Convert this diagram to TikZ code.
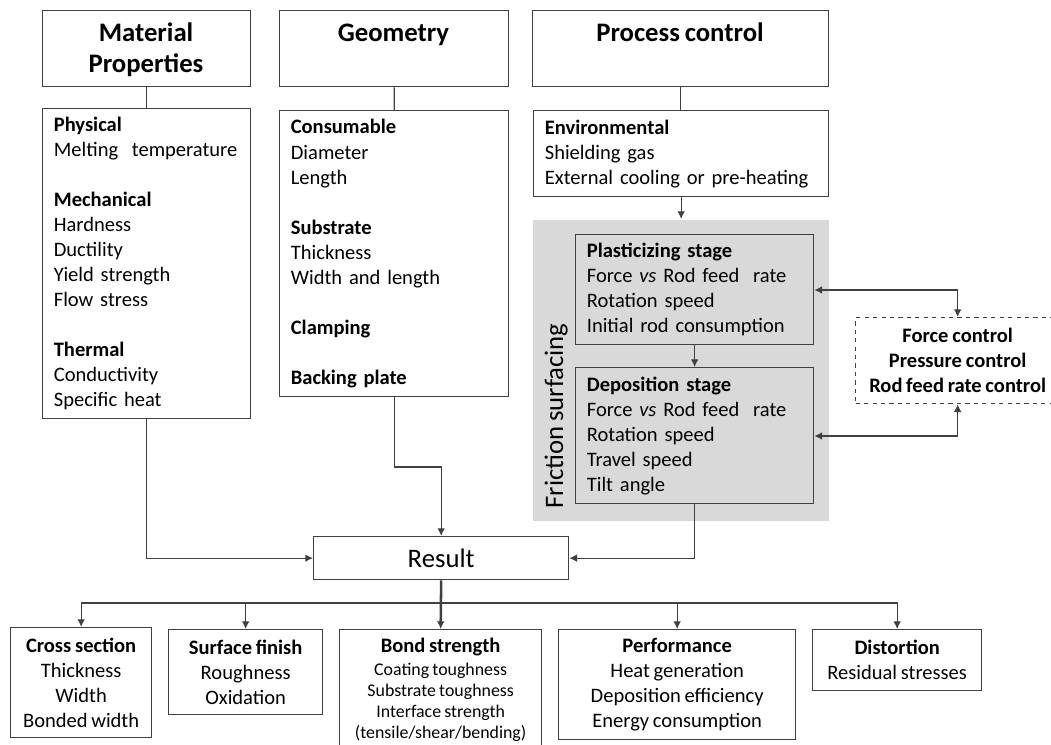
\documentclass[tikz,border=0pt]{standalone}
\usepackage{fontspec}
\setmainfont{Carlito}[WordSpace=0.8]
\usetikzlibrary{arrows.meta,positioning}
\newcommand\lstfont{\fontsize{14.6}{17.8}\selectfont}
\newcommand\hdfont{\fontsize{19}{22}\selectfont\bfseries}
\newcommand\smfont{\fontsize{12.7}{15}\selectfont}
\newcommand\fricfont{\fontsize{19}{22}\selectfont}
\newcommand\gap{\\[17.8pt]}
\newcommand\sm[1]{{\smfont #1}}
\begin{document}
\begin{tikzpicture}[x=0.025cm,y=-0.025cm,
  box/.style={draw=black!75,line width=0.9pt,rectangle,inner sep=0pt,anchor=north west},
  hdbox/.style={box,minimum height=1.9cm},
  hdtext/.style={font=\hdfont,align=center,inner sep=0pt,anchor=base},
  listbox/.style={box,font=\lstfont,align=left,inner xsep=0.28cm},
  resbox/.style={box,font=\lstfont,align=center},
  conn/.style={draw=black!75,line width=0.9pt},
  arr/.style={conn,-{Latex[length=5.5pt,width=5.5pt]}},
  biarr/.style={conn,{Latex[length=5.5pt,width=5.5pt]}-{Latex[length=5.5pt,width=5.5pt]}}]
\useasboundingbox (0,0) rectangle (1051,744);

% headers
\node[hdbox,minimum width=5.2cm] (mathd) at (42,10) {};
\node[hdbox,minimum width=5.725cm] (geohd) at (279,10) {};
\node[hdbox,minimum width=7.4cm] (prohd) at (532,10) {};
\node[hdtext] (mattxt) at (146,72) {Material\\Properties};
\node[hdtext] (geotxt) at (393.5,41) {Geometry};
\node[hdtext] (protxt) at (680,41) {Process control};

% parameter lists
\node[listbox,text width=4.64cm,minimum height=7.75cm] (matlist) at (42,108) {%
  \textbf{Physical}\\Melting~ temperature\gap
  \textbf{Mechanical}\\Hardness\\Ductility\\Yield strength\\Flow stress\gap
  \textbf{Thermal}\\Conductivity\\Specific heat};
\node[listbox,text width=5.165cm,minimum height=7.15cm] (geolist) at (279,110) {%
  \textbf{Consumable}\\Diameter\\Length\gap
  \textbf{Substrate}\\Thickness\\Width and length\gap
  \textbf{Clamping}\gap
  \textbf{Backing plate}};
\node[listbox,text width=6.815cm,minimum height=2.15cm] (env) at (533,110) {%
  \textbf{Environmental}\\Shielding gas\\External cooling or pre-heating};

% friction surfacing stages
\node[box,draw=none,fill=black!15,minimum width=7.4cm,minimum height=7.525cm] (fric) at (532,219) {};
\node[rotate=90,anchor=base,font=\fricfont,inner sep=0pt] (friclab) at (563,416) {Friction surfacing};
\node[listbox,text width=5.39cm,minimum height=2.75cm] (plast) at (575,234) {%
  \textbf{Plasticizing stage}\\Force \emph{vs} Rod feed~ rate\\Rotation speed\\Initial rod consumption};
\node[listbox,text width=5.39cm,minimum height=3.4cm] (deposit) at (575,367) {%
  \textbf{Deposition stage}\\Force \emph{vs} Rod feed~ rate\\Rotation speed\\Travel speed\\Tilt angle};
\node[resbox,dashed,font=\lstfont\bfseries,minimum width=5.1cm,minimum height=2.15cm] (ctrl) at (855,317) {%
  Force control\\Pressure control\\Rod feed rate control};

% result and outcomes
\node[resbox,font=\fricfont,minimum width=6.375cm,minimum height=1.075cm] (result) at (313,536) {Result};
\node[resbox,minimum width=3.525cm,minimum height=2.75cm] (cross) at (10,627) {%
  \textbf{Cross section}\\Thickness\\Width\\Bonded width};
\node[resbox,minimum width=3.85cm,minimum height=2.125cm] (surf) at (168,629) {%
  \textbf{Surface finish}\\Roughness\\Oxidation};
\node[resbox,minimum width=5.05cm,minimum height=3.025cm] (bond) at (339,629) {%
  \textbf{Bond strength}\\[-1.4pt]\sm{Coating toughness}\\[-2.9pt]\sm{Substrate toughness}\\[-2.9pt]%
  \sm{Interface strength}\\[-2.9pt]\sm{(tensile/shear/bending)}};
\node[resbox,minimum width=5.925cm,minimum height=2.75cm] (perf) at (558,629) {%
  \textbf{Performance}\\Heat generation\\Deposition efficiency\\Energy consumption};
\node[resbox,minimum width=4.225cm,minimum height=1.525cm] (dist) at (812,629) {%
  \textbf{Distortion}\\Residual stresses};

% connectors
\draw[conn] (mathd.south) -- (matlist.north);
\draw[conn] (geohd.south) -- (geolist.north);
\draw[conn] (prohd.south) -- (prohd.south |- env.north);
\draw[arr] (env.south) -- (env.south |- fric.north);
\draw[arr] (plast.south) -- (deposit.north);
\draw[biarr] (plast.east |- 0,290) -| (ctrl.north);
\draw[biarr] (deposit.east |- 0,436) -| (ctrl.south);
\draw[arr] (matlist.south) |- (result.west);
\draw[arr] (geolist.south) -- (geolist.south |- 0,467) -| (result.north);
\draw[arr] (deposit.south) |- (result.east);
\coordinate (split) at (result.south |- 0,603);
\draw[arr,line width=1.8pt] (result.south) -- (bond.north);
\foreach \out in {cross,surf,perf,dist}
  \draw[arr] (split) -| (\out.north);
\end{tikzpicture}
\end{document}
